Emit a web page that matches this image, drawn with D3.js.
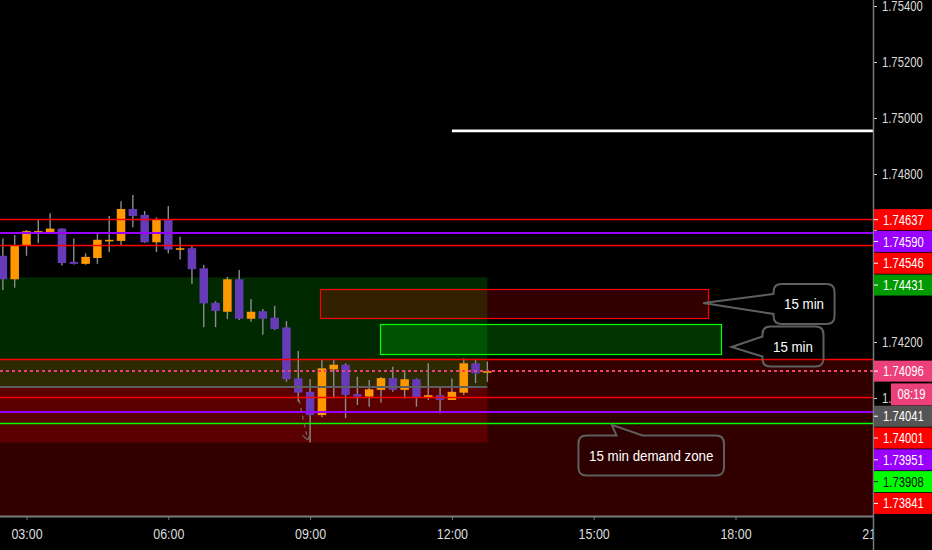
<!DOCTYPE html>
<html><head><meta charset="utf-8">
<script src="https://cdn.jsdelivr.net/npm/d3@7"></script>
<style>
html,body{margin:0;padding:0;background:#000;overflow:hidden}
svg{display:block}
text{font-family:"Liberation Sans","Arial",sans-serif}
</style>
</head><body><svg id="c" width="932" height="550"></svg>
<script>
// ---------- DATA ----------
const times = ["02:30","02:45","03:00","03:15","03:30","03:45","04:00","04:15","04:30","04:45",
  "05:00","05:15","05:30","05:45","06:00","06:15","06:30","06:45","07:00","07:15",
  "07:30","07:45","08:00","08:15","08:30","08:45","09:00","09:15","09:30","09:45",
  "10:00","10:15","10:30","10:45","11:00","11:15","11:30","11:45","12:00","12:15","12:30","12:45"];
const opens = [1.74508,1.74424,1.74544,1.74592,1.74592,1.74605,1.74486,1.74479,1.74500,1.74561,
  1.74561,1.74675,1.74654,1.74556,1.74639,1.74530,1.74535,1.74463,1.74340,1.74308,
  1.74424,1.74283,1.74310,1.74287,1.74252,1.74070,1.74022,1.73939,1.74102,1.74119,
  1.74014,1.74005,1.74029,1.74071,1.74029,1.74067,1.74001,1.74010,1.73993,1.74019,1.74124,1.74090];
const highs = [1.74570,1.74582,1.74600,1.74636,1.74660,1.74606,1.74570,1.74517,1.74590,1.74650,
  1.74703,1.74725,1.74668,1.74645,1.74686,1.74576,1.74543,1.74475,1.74346,1.74433,
  1.74457,1.74354,1.74318,1.74329,1.74275,1.74168,1.74067,1.74138,1.74136,1.74124,
  1.74076,1.74064,1.74075,1.74112,1.74100,1.74070,1.74124,1.74037,1.74070,1.74142,1.74136,1.74130];
const lows = [1.74386,1.74394,1.74508,1.74553,1.74588,1.74473,1.74477,1.74476,1.74479,1.74521,
  1.74544,1.74610,1.74554,1.74521,1.74517,1.74495,1.74407,1.74253,1.74253,1.74282,
  1.74279,1.74272,1.74226,1.74243,1.74058,1.73987,1.73841,1.73931,1.73999,1.73928,
  1.73975,1.73969,1.73983,1.74022,1.73999,1.73969,1.73993,1.73945,1.73993,1.74011,1.74053,1.74058];
const closes = [1.74424,1.74546,1.74596,1.74596,1.74605,1.74482,1.74479,1.74504,1.74565,1.74565,
  1.74675,1.74650,1.74556,1.74639,1.74530,1.74535,1.74460,1.74338,1.74311,1.74424,
  1.74283,1.74308,1.74283,1.74246,1.74067,1.74019,1.73939,1.74106,1.74119,1.74011,
  1.74005,1.74031,1.74071,1.74029,1.74067,1.74001,1.74010,1.73993,1.74022,1.74124,1.74088,1.74096];

const timeTicks = ["03:00","06:00","09:00","12:00","15:00","18:00","21:00"];
const priceTicks = [1.736,1.738,1.740,1.742,1.744,1.746,1.748,1.750,1.752,1.754];

// horizontal level lines
const linePrices = [1.74637,1.74590,1.74546,1.74138,1.74041,1.74001,1.73951,1.73908];
const lineKinds  = ["red","purple","red","red","grey","red","purple","green"];
const lineStarts = ["00:00","00:00","00:00","00:00","00:00","00:00","00:00","00:00"];
const lineEnds   = ["23:00","23:00","23:00","23:00","12:45","23:00","23:00","23:00"];

// white level line
const whiteLinePrice = 1.74954, whiteLineStart = "12:00", whiteLineEnd = "23:00";

// price-axis labels
const labelPrices = [1.74637,1.74590,1.74546,1.74431,1.74096,1.74041,1.74001,1.73951,1.73908,1.73841];
const labelKinds  = ["red","purple","red","zone","last","grey","red","purple","green","red"];
const lastPrice = 1.74096;
const countdownText = "08:19";

// zones (background rectangles)
const zoneKinds  = ["redWide","red","green"];
const zoneStarts = ["00:00","00:00","00:00"];
const zoneEnds   = ["23:00","12:45","12:45"];
const zoneTops   = [1.74138,1.74138,1.74431];
const zoneBots   = [1.73500,1.73841,1.74041];

// drawn boxes
const boxKinds  = ["redBox","greenBox"];
const boxStarts = ["09:13","10:29"];
const boxEnds   = ["17:26","17:42"];
const boxTops   = [1.74389,1.74264];
const boxBots   = [1.74286,1.74157];

// callouts
const calloutTexts     = ["15 min","15 min","15 min demand zone"];
const calloutBoxTimes  = ["19:27","19:13","16:13"];
const calloutBoxPrices = [1.74336,1.74184,1.73795];
const calloutTipTimes  = ["17:19","17:55","15:23"];
const calloutTipPrices = [1.74339,1.74182,1.73904];

// small arrow drawing
const arrowTimes  = ["08:46","08:57"];
const arrowPrices = [1.73993,1.73850];

// ---------- STYLES ----------
const S = {
  red:    {line:"#ff0000", w:1.3, box:"#ff0000", text:"#ffffff"},
  purple: {line:"#9900ff", w:2,   box:"#9900ff", text:"#ffffff"},
  green:  {line:"#00ff00", w:1.5, box:"#00ff00", text:"#0a0a0a"},
  grey:   {line:"#5e5e5e", w:2,   box:"#555555", text:"#ffffff"},
  zone:   {box:"#009900", text:"#ffffff"},
  last:   {line:"#ec407a", box:"#ec407a", text:"#ffffff"}
};
const ZS = {
  redWide:{fill:"#ff0000", op:0.2},
  red:    {fill:"#ff0000", op:0.2},
  green:  {fill:"#005200", op:0.5},
  redBox: {fill:"#ff0000", op:0.2, stroke:"#ff0000"},
  greenBox:{fill:"#00ff00", op:0.2, stroke:"#00ff00"}
};
const UP = "#ff9800", DOWN = "#673ab7", WICK = "#8c8c8c";
const AXIS = "#7a7a7a";

// condense text horizontally about its anchor x (emulates a narrow chart font)
function condense(sel, f){
  sel.each(function(){
    const X = +(this.getAttribute("x") || 0);
    d3.select(this).attr("transform", `translate(${X},0) scale(${f},1) translate(${-X},0)`);
  });
}
const crisp = (v, w) => w >= 2 ? Math.round(v) : Math.round(v - 0.5) + 0.5;

// ---------- SCALES ----------
const W = 932, H = 550, PR = 873, PB = 516;
const t = s => { const [h,m] = s.split(":").map(Number); return new Date(2020,0,1,h,m); };
const x = d3.scaleTime().domain([t("03:00"), t("18:00")]).range([26.5, 735.5]);
const y = d3.scaleLinear().domain([1.736, 1.754]).range([510, 6]);

const svg = d3.select("#c");
svg.append("rect").attr("width",W).attr("height",H).attr("fill","#000");
const defs = svg.append("defs");
defs.append("clipPath").attr("id","plot").append("rect").attr("x",0).attr("y",0).attr("width",PR).attr("height",PB);
defs.append("clipPath").attr("id","xax").append("rect").attr("x",0).attr("y",PB).attr("width",PR).attr("height",H-PB);

const plot = svg.append("g").attr("clip-path","url(#plot)");

// zones
zoneKinds.forEach((k,i)=>{
  const x0 = x(t(zoneStarts[i])), x1 = x(t(zoneEnds[i]));
  plot.append("rect").attr("x",x0).attr("width",x1-x0)
    .attr("y",y(zoneTops[i])).attr("height",y(zoneBots[i])-y(zoneTops[i]))
    .attr("fill",ZS[k].fill).attr("fill-opacity",ZS[k].op);
});
// boxes
boxKinds.forEach((k,i)=>{
  const x0 = x(t(boxStarts[i])), x1 = x(t(boxEnds[i]));
  plot.append("rect").attr("x",Math.round(x0)+0.5).attr("width",Math.round(x1-x0))
    .attr("y",Math.round(y(boxTops[i]))+0.5).attr("height",Math.round(y(boxBots[i])-y(boxTops[i])))
    .attr("fill",ZS[k].fill).attr("fill-opacity",ZS[k].op)
    .attr("stroke",ZS[k].stroke).attr("stroke-width",1.2);
});

// candles
const candles = times.map((s,i)=>({t:t(s), o:opens[i], h:highs[i], l:lows[i], c:closes[i]}));
const step = x(t("03:15")) - x(t("03:00"));
const bw = step*0.72;
const cg = plot.append("g");
candles.forEach(d=>{
  const cx = x(d.t);
  cg.append("line").attr("x1",cx).attr("x2",cx).attr("y1",y(d.h)).attr("y2",y(d.l))
    .attr("stroke",WICK).attr("stroke-width",1.4);
  const top = y(Math.max(d.o,d.c)), bot = y(Math.min(d.o,d.c));
  cg.append("rect").attr("x",cx-bw/2).attr("width",bw).attr("y",top).attr("height",Math.max(1.6,bot-top))
    .attr("fill", d.c>=d.o ? UP : DOWN);
});

// level lines
linePrices.forEach((p,i)=>{
  const st = S[lineKinds[i]];
  const yy = crisp(y(p), st.w);
  plot.append("line").attr("x1",x(t(lineStarts[i]))).attr("x2",x(t(lineEnds[i])))
    .attr("y1",yy).attr("y2",yy).attr("stroke",st.line).attr("stroke-width",st.w);
});
// white line
plot.append("line").attr("x1",x(t(whiteLineStart))).attr("x2",x(t(whiteLineEnd)))
  .attr("y1",y(whiteLinePrice)).attr("y2",y(whiteLinePrice)).attr("stroke","#ffffff").attr("stroke-width",2.6);
// last price dotted line
plot.append("line").attr("x1",0).attr("x2",PR).attr("y1",crisp(y(lastPrice),2)).attr("y2",crisp(y(lastPrice),2))
  .attr("stroke",S.last.line).attr("stroke-width",2).attr("stroke-dasharray","3,3");

// small arrow drawing
{
  const ax0 = x(t(arrowTimes[0])), ay0 = y(arrowPrices[0]), ax1 = x(t(arrowTimes[1])), ay1 = y(arrowPrices[1]);
  plot.append("line").attr("x1",ax0).attr("y1",ay0).attr("x2",ax1).attr("y2",ay1)
    .attr("stroke","#6a6a6a").attr("stroke-width",1.2).attr("stroke-dasharray","4,4");
  const ang = Math.atan2(ay1-ay0, ax1-ax0);
  [ang+Math.PI*0.8, ang-Math.PI*0.8].forEach(a=>{
    plot.append("line").attr("x1",ax1).attr("y1",ay1).attr("x2",ax1+7*Math.cos(a)).attr("y2",ay1+7*Math.sin(a))
      .attr("stroke","#6a6a6a").attr("stroke-width",1.2);
  });
}

// callouts
function calloutPath(x0,y0,x1,y1,r,side,b1,b2,tx,ty){
  if(side==="left")
    return `M${x0+r},${y0}H${x1-r}Q${x1},${y0} ${x1},${y0+r}V${y1-r}Q${x1},${y1} ${x1-r},${y1}H${x0+r}Q${x0},${y1} ${x0},${y1-r}V${b2}L${tx},${ty}L${x0},${b1}V${y0+r}Q${x0},${y0} ${x0+r},${y0}Z`;
  return `M${x0+r},${y0}H${b1}L${tx},${ty}L${b2},${y0}H${x1-r}Q${x1},${y0} ${x1},${y0+r}V${y1-r}Q${x1},${y1} ${x1-r},${y1}H${x0+r}Q${x0},${y1} ${x0},${y1-r}V${y0+r}Q${x0},${y0} ${x0+r},${y0}Z`;
}
calloutTexts.forEach((txt,i)=>{
  const cx = x(t(calloutBoxTimes[i])), cy = y(calloutBoxPrices[i]);
  const tx = x(t(calloutTipTimes[i])), ty = y(calloutTipPrices[i]);
  const g = plot.append("g");
  const f = 0.86;
  const label = g.append("text").attr("x",cx).attr("y",cy).attr("text-anchor","middle")
    .attr("dominant-baseline","central").attr("fill","#ffffff").attr("font-size",15.5).text(txt);
  const tw = label.node().getComputedTextLength() * f;
  condense(label, f);
  const bwid = tw + 21, bh = 40;
  const x0 = cx - bwid/2, x1 = cx + bwid/2, y0 = cy - bh/2, y1 = cy + bh/2;
  let d;
  if (ty < y0) d = calloutPath(x0,y0,x1,y1,8,"top",x0+38,x0+64,tx,ty);
  else d = calloutPath(x0,y0,x1,y1,8,"left",cy-10,cy+10,tx,ty);
  g.insert("path","text").attr("d",d).attr("fill","#000").attr("fill-opacity",0.12)
    .attr("stroke","#5f5f5f").attr("stroke-width",2);
});

// ---------- AXES ----------
// bottom axis
const xg = svg.append("g").attr("clip-path","url(#xax)").append("g").attr("transform",`translate(0,${PB})`)
  .call(d3.axisBottom(x).tickValues(timeTicks.map(t)).tickFormat(d3.timeFormat("%H:%M")).tickSize(4).tickPadding(9));
xg.select(".domain").remove();
xg.selectAll(".tick line").attr("stroke",AXIS);
xg.selectAll(".tick text").attr("fill","#dcdcdc").attr("font-size",14.5).attr("font-family",null);
condense(xg.selectAll(".tick text"), 0.86);
svg.append("line").attr("x1",0).attr("x2",PR).attr("y1",PB+0.5).attr("y2",PB+0.5).attr("stroke",AXIS).attr("stroke-width",2);

// price labels stacked (computed first so covered tick labels can be dropped)
const LH = 21.8;
const labs = labelPrices.map((p,i)=>({p, kind:labelKinds[i]})).sort((a,b)=>b.p-a.p);
let prev = -Infinity; const stacked = [];
labs.forEach(l=>{
  const cy = Math.max(y(l.p), prev + LH);
  stacked.push({...l, cy}); prev = cy;
  if (l.kind === "last") { const c2 = cy + LH + 1.5; stacked.push({countdown:true, cy:c2}); prev = c2; }
});
const fullyCovered = v => stacked.some(l => !l.countdown && Math.abs(y(v) - l.cy) < 11);

// right axis
const yg = svg.append("g").attr("transform",`translate(${PR},0)`)
  .call(d3.axisRight(y).tickValues(priceTicks).tickFormat(d3.format(".5f")).tickSize(4).tickPadding(5));
yg.select(".domain").remove();
yg.selectAll(".tick line").attr("stroke","#cfcfcf");
yg.selectAll(".tick text").attr("fill","#dcdcdc").attr("font-size",15).attr("font-family",null);
condense(yg.selectAll(".tick text"), 0.75);
yg.selectAll(".tick").filter(d => fullyCovered(d)).select("text").remove();
svg.append("line").attr("x1",PR+0.5).attr("x2",PR+0.5).attr("y1",0).attr("y2",H).attr("stroke",AXIS).attr("stroke-width",1.5);

const lg = svg.append("g");
stacked.forEach(l=>{
  if (l.countdown) {
    lg.append("rect").attr("x",891).attr("width",W-891).attr("y",l.cy-11).attr("height",22).attr("fill",S.last.box);
    const ct = lg.append("text").attr("x",(891+W)/2).attr("y",l.cy).attr("text-anchor","middle").attr("dominant-baseline","central")
      .attr("fill","#fff").attr("font-size",15).text(countdownText);
    condense(ct, 0.75);
    return;
  }
  const st = S[l.kind];
  lg.append("rect").attr("x",PR+1).attr("width",W-PR-1).attr("y",l.cy-10.5).attr("height",21).attr("fill",st.box);
  lg.append("line").attr("x1",PR+1).attr("x2",PR+5).attr("y1",l.cy).attr("y2",l.cy).attr("stroke",st.text);
  const lt = lg.append("text").attr("x",PR+10).attr("y",l.cy).attr("dominant-baseline","central")
    .attr("fill",st.text).attr("font-size",15).text(d3.format(".5f")(l.p));
  condense(lt, 0.75);
});
</script>
</body></html>
